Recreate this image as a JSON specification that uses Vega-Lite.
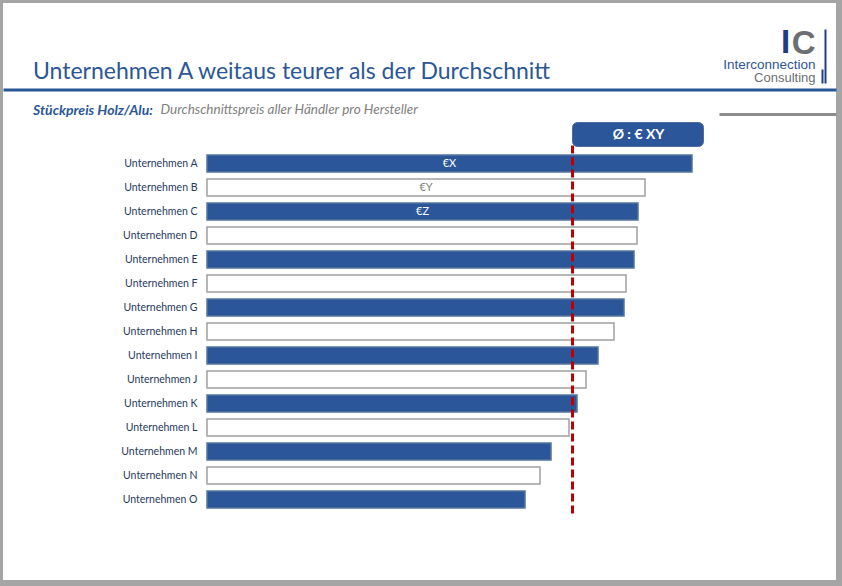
{
  "$schema": "https://vega.github.io/schema/vega-lite/v6.json",
  "width": 833,
  "height": 577,
  "autosize": "none",
  "padding": {"left": 3, "top": 3, "right": 6, "bottom": 6},
  "background": "#a5a5a5",
  "config": {"view": {"fill": "white", "stroke": null}, "font": "Lato"},
  "title": {
    "text": "Unternehmen A weitaus teurer als der Durchschnitt",
    "subtitle": "Stückpreis Holz/Alu:",
    "anchor": "start",
    "frame": "group",
    "dx": 30,
    "offset": -115,
    "font": "Lato",
    "fontSize": 23,
    "fontWeight": "normal",
    "color": "#2b5797",
    "subtitleFont": "Lato",
    "subtitleFontSize": 14,
    "subtitleFontStyle": "italic",
    "subtitleFontWeight": "bold",
    "subtitleColor": "#2b5797",
    "subtitlePadding": 20
  },
  "datasets": {
    "firmen": [
      {"firma": "Unternehmen A", "preis": 485, "rang": 1, "label": "€X"},
      {"firma": "Unternehmen B", "preis": 438, "rang": 2, "label": "€Y"},
      {"firma": "Unternehmen C", "preis": 431, "rang": 3, "label": "€Z"},
      {"firma": "Unternehmen D", "preis": 430, "rang": 4, "label": ""},
      {"firma": "Unternehmen E", "preis": 427, "rang": 5, "label": ""},
      {"firma": "Unternehmen F", "preis": 419, "rang": 6, "label": ""},
      {"firma": "Unternehmen G", "preis": 417, "rang": 7, "label": ""},
      {"firma": "Unternehmen H", "preis": 407, "rang": 8, "label": ""},
      {"firma": "Unternehmen I", "preis": 391, "rang": 9, "label": ""},
      {"firma": "Unternehmen J", "preis": 379, "rang": 10, "label": ""},
      {"firma": "Unternehmen K", "preis": 370, "rang": 11, "label": ""},
      {"firma": "Unternehmen L", "preis": 362, "rang": 12, "label": ""},
      {"firma": "Unternehmen M", "preis": 344, "rang": 13, "label": ""},
      {"firma": "Unternehmen N", "preis": 333, "rang": 14, "label": ""},
      {"firma": "Unternehmen O", "preis": 318, "rang": 15, "label": ""}
    ],
    "durchschnitt": [{"wert": 365.5, "label": "Ø : € XY"}]
  },
  "layer": [
    {
      "data": {"name": "firmen"},
      "mark": {"type": "bar", "strokeWidth": 1.5},
      "encoding": {
        "x": {
          "field": "preis", "type": "quantitative",
          "scale": {"domain": [-204, 629], "nice": false, "zero": false},
          "axis": {
            "orient": "top", "offset": -86.5, "labels": false, "ticks": false, "grid": false,
            "domain": true, "domainColor": "#2b5797", "domainWidth": 3,
            "title": "Durchschnittspreis aller Händler pro Hersteller",
            "titleX": 157, "titleY": 23.5, "titleAlign": "left", "titleAngle": 0,
            "titleBaseline": "alphabetic", "titleFont": "Lato", "titleFontSize": 13.5,
            "titleFontStyle": "italic", "titleFontWeight": "normal", "titleColor": "#7f7f7f"
          }
        },
        "y": {
          "field": "firma", "type": "nominal", "sort": null,
          "scale": {"range": [148.5, 508.5], "paddingInner": 0.29, "paddingOuter": 0.145},
          "axis": {
            "orient": "left", "offset": -204, "domain": false, "ticks": false, "tickSize": 0,
            "grid": false, "labelPadding": 10, "labelFont": "Lato", "labelFontSize": 10.5,
            "labelColor": "#1f3a60",
            "title": "Interconnection", "titleX": 608, "titleY": 65.5, "titleAngle": 0,
            "titleAlign": "right", "titleBaseline": "alphabetic", "titleFont": "Liberation Sans",
            "titleFontSize": 13.5, "titleFontWeight": "normal", "titleColor": "#2b5797"
          }
        },
        "fill": {"condition": {"test": "datum.rang % 2 === 1", "value": "#2b579a"}, "value": "#ffffff"},
        "stroke": {"condition": {"test": "datum.rang % 2 === 1", "value": "#56759f"}, "value": "#a0a0a0"}
      }
    },
    {
      "data": {"name": "firmen"},
      "mark": {"type": "text", "align": "center", "baseline": "middle", "fontSize": 11, "font": "Lato"},
      "encoding": {
        "x": {
          "field": "preis", "type": "quantitative",
          "scale": {"domain": [-408, 1258], "nice": false, "zero": false},
          "axis": {
            "orient": "bottom", "offset": -497, "values": [1230, 1236], "labels": false,
            "domain": false, "grid": false, "ticks": true,
            "tickSize": {"condition": {"test": "datum.value === 1236", "value": -54}, "value": -14},
            "tickWidth": 2, "tickColor": "#1f3c88",
            "title": "Consulting", "titleX": 812, "titleY": -1.5, "titleAlign": "right",
            "titleAngle": 0, "titleBaseline": "alphabetic", "titleFont": "Liberation Sans",
            "titleFontSize": 13, "titleFontWeight": "normal", "titleColor": "#6d6e71", "titlePadding": 0
          }
        },
        "y": {
          "field": "firma", "type": "nominal", "sort": null,
          "axis": {
            "orient": "right", "values": ["Unternehmen A"], "tickOffset": -50, "tickSize": -117,
            "tickWidth": 3, "tickColor": "#8c8c8c", "ticks": true, "labels": false, "domain": false,
            "grid": false,
            "title": "C", "titleX": -21, "titleY": 50, "titleAngle": 0, "titleAlign": "right",
            "titleBaseline": "alphabetic", "titleFont": "Liberation Sans", "titleFontSize": 33,
            "titleFontWeight": "bold", "titleColor": "#6d6e71"
          }
        },
        "text": {"field": "label"},
        "color": {"condition": {"test": "datum.rang % 2 === 1", "value": "#ffffff"}, "value": "#808080"}
      }
    },
    {
      "data": {"name": "durchschnitt"},
      "mark": {"type": "rule", "stroke": "#c00000", "strokeWidth": 3, "yOffset": -18, "y2Offset": 18},
      "encoding": {
        "x": {
          "field": "wert", "type": "quantitative",
          "scale": {"domain": [-204, 629], "nice": false, "zero": false}, "axis": null
        },
        "y": {"datum": "Unternehmen A", "type": "nominal", "axis": null},
        "y2": {"datum": "Unternehmen O"},
        "strokeDash": {
          "datum": "Ø", "type": "nominal", "scale": {"range": [[8, 4]]},
          "legend": {
            "orient": "none", "legendX": 778, "legendY": 24, "padding": 0,
            "title": "I", "titleFont": "Liberation Sans", "titleFontSize": 33,
            "titleFontWeight": "bold", "titleColor": "#1f3c88",
            "symbolOpacity": 0, "labelOpacity": 0
          }
        }
      }
    },
    {
      "data": {"name": "durchschnitt"},
      "mark": {"type": "rect", "fill": "#2b579a", "stroke": "#4d6e9e", "strokeWidth": 1, "cornerRadius": 5, "x2Offset": 131, "yOffset": -41, "y2Offset": -17},
      "encoding": {
        "x": {
          "field": "wert", "type": "quantitative",
          "scale": {"domain": [-204, 629], "nice": false, "zero": false}, "axis": null
        },
        "x2": {"field": "wert"},
        "y": {"datum": "Unternehmen A", "type": "nominal", "bandPosition": 0.5, "axis": null},
        "y2": {"datum": "Unternehmen A", "bandPosition": 0.5}
      }
    },
    {
      "data": {"name": "durchschnitt"},
      "mark": {"type": "text", "color": "#ffffff", "font": "Lato", "fontSize": 14, "fontWeight": "bold", "align": "center", "baseline": "middle", "dx": 66, "dy": -29},
      "encoding": {
        "x": {
          "field": "wert", "type": "quantitative",
          "scale": {"domain": [-204, 629], "nice": false, "zero": false}, "axis": null
        },
        "y": {"datum": "Unternehmen A", "type": "nominal", "axis": null},
        "text": {"field": "label"}
      }
    }
  ],
  "resolve": {"scale": {"x": "independent"}, "axis": {"x": "independent", "y": "independent"}}
}
